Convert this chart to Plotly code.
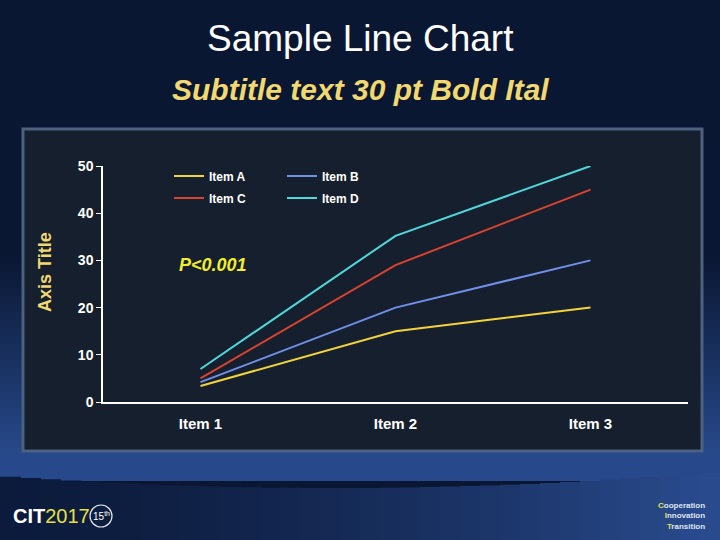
import plotly.graph_objects as go

W, H = 720, 540
categories = ["Item 1", "Item 2", "Item 3"]
series_names = ["Item A", "Item B", "Item C", "Item D"]
item_a = [3.4, 15, 20]
item_b = [4.2, 20, 30]
item_c = [5, 29, 45]
item_d = [7, 35.2, 50]
series_values = [item_a, item_b, item_c, item_d]
series_colors = ["#f2d33c", "#6f8fe8", "#d8432f", "#4fd8dc"]
y_ticks = [0, 10, 20, 30, 40, 50]

def px(x):
    return x / W

def py(y):
    return 1 - y / H

def lerp_col(c1, c2, t):
    a = [int(c1[i:i + 2], 16) for i in (1, 3, 5)]
    b = [int(c2[i:i + 2], 16) for i in (1, 3, 5)]
    return "#%02x%02x%02x" % tuple(round(a[k] + (b[k] - a[k]) * t) for k in range(3))

shapes = []
# background vertical gradient
n = 60
for i in range(n):
    y0 = i * 480 / n
    y1 = (i + 1) * 480 / n + 1
    t = max(0.0, min(1.0, (y0 - 250) / 200))
    col = lerp_col("#0a1732", "#27488a", t)
    shapes.append(dict(type="rect", xref="paper", yref="paper", x0=0, x1=1,
                       y0=py(y1), y1=py(y0), fillcolor=col, line_width=0, layer="below"))
# bottom dark region with curved top and horizontal gradient
m = 36
for i in range(m):
    x0 = i * W / m
    x1 = (i + 1) * W / m + 1
    u = ((x0 + x1) / 2) / W
    edge = 476 + 14 * (1 - (2 * u - 1) ** 2) - 4 * u
    t = u ** 1.6
    col = lerp_col("#0c1b3c", "#2a4c90", t)
    shapes.append(dict(type="rect", xref="paper", yref="paper", x0=px(x0), x1=px(x1),
                       y0=0, y1=py(edge), fillcolor=col, line_width=0, layer="below"))
# chart panel
shapes.append(dict(type="rect", xref="paper", yref="paper", x0=px(23), x1=px(702),
                   y0=py(451), y1=py(129), fillcolor="#161f2d",
                   line=dict(color="#4d6180", width=3), layer="below"))
# circle around 15th
shapes.append(dict(type="circle", xref="paper", yref="paper", x0=px(90), x1=px(112),
                   y0=py(527), y1=py(505), line=dict(color="#e8e8e8", width=1.2)))

fig = go.Figure()
for i, (name, vals, col) in enumerate(zip(series_names, series_values, series_colors)):
    fig.add_trace(go.Scatter(x=categories, y=vals, name=name, mode="lines",
                             line=dict(color=col, width=2),
                             legend="legend" if i in (0, 1) else "legend2"))

legend_common = dict(orientation="h", bgcolor="rgba(0,0,0,0)", xanchor="left", yanchor="middle",
                     font=dict(family="Liberation Sans, Arial", size=12, color="white", weight="bold"),
                     entrywidth=68, itemwidth=30, tracegroupgap=0, traceorder="normal")

annotations = [
    dict(text="Sample Line Chart", x=0.5, y=py(38), xref="paper", yref="paper", showarrow=False,
         font=dict(family="Liberation Sans, Arial", size=37, color="white"), xanchor="center", yanchor="middle"),
    dict(text="<b><i>Subtitle text 30 pt Bold Ital</i></b>", x=0.5, y=py(90), xref="paper", yref="paper",
         showarrow=False, font=dict(family="Liberation Sans, Arial", size=30, color="#f2d870"),
         xanchor="center", yanchor="middle"),
    dict(text="<b>Axis Title</b>", x=px(45), y=py(272), xref="paper", yref="paper", showarrow=False,
         textangle=-90, font=dict(family="Liberation Sans, Arial", size=18, color="#f2d870"),
         xanchor="center", yanchor="middle"),
    dict(text="<b><i>P&lt;0.001</i></b>", x=px(177), y=py(265), xref="paper", yref="paper", showarrow=False,
         font=dict(family="Liberation Sans, Arial", size=18, color="#f2ee2a"), xanchor="left", yanchor="middle"),
    dict(text="<b>CIT</b><span style='color:#e6e040'>2017</span>", x=px(11), y=py(516), xref="paper", yref="paper",
         showarrow=False, font=dict(family="Liberation Sans, Arial", size=20, color="white"),
         xanchor="left", yanchor="middle"),
    dict(text="15<sup>th</sup>", x=px(101), y=py(516), xref="paper", yref="paper", showarrow=False,
         font=dict(family="Liberation Sans, Arial", size=10, color="white"),
         xanchor="center", yanchor="middle"),
    dict(text="<b><span style='color:#e6e040'>C</span>ooperation<br><span style='color:#e6e040'>I</span>nnovation<br><span style='color:#e6e040'>T</span>ransition</b>",
         x=px(707), y=py(516), xref="paper", yref="paper", showarrow=False, align="right",
         font=dict(family="Liberation Sans, Arial", size=8, color="#dfe6f2"), xanchor="right", yanchor="middle"),
]

fig.update_layout(
    width=W, height=H, margin=dict(l=0, r=0, t=0, b=0, autoexpand=False),
    paper_bgcolor="#0a1732", plot_bgcolor="rgba(0,0,0,0)",
    shapes=shapes, annotations=annotations, showlegend=True,
    legend=dict(x=px(169), y=py(176), **legend_common),
    legend2=dict(x=px(169), y=py(198), **legend_common),
    xaxis=dict(domain=[px(103), px(688)], range=[-0.5, 2.5], type="category",
               showgrid=False, zeroline=False, showline=True, linecolor="white", linewidth=1.5,
               ticks="", tickfont=dict(family="Liberation Sans, Arial", size=15, color="white", weight="bold"),
               ticklabelstandoff=7, automargin=False),
    yaxis=dict(domain=[py(402), py(166)], range=[0, 50], tickvals=y_ticks,
               showgrid=False, zeroline=False, showline=True, linecolor="white", linewidth=1.5,
               ticks="outside", ticklen=5, tickcolor="white", tickwidth=1.2, automargin=False,
               tickfont=dict(family="Liberation Sans, Arial", size=14, color="white", weight="bold")),
)

fig.write_html("out.html")
